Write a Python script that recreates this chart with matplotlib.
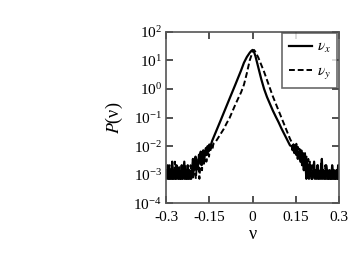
import numpy as np
import matplotlib
matplotlib.use("Agg")
import matplotlib.pyplot as plt
from matplotlib.ticker import LogLocator, NullLocator, FixedLocator

plt.rcParams["font.family"] = ["Liberation Serif", "DejaVu Serif"]
plt.rcParams["mathtext.fontset"] = "stix"

# P per single count in the histogram tails
count_scale = 7.1e-4

# v_x (solid): smooth core, log10 P
vx_core_x = [-0.14, -0.13, -0.12, -0.11, -0.10, -0.09, -0.08, -0.07, -0.06, -0.05,
             -0.04, -0.03, -0.02, -0.01, -0.005, 0.0, 0.005, 0.01, 0.015, 0.02, 0.03,
             0.04, 0.05, 0.06, 0.07, 0.08, 0.09, 0.10, 0.11, 0.12, 0.13]
vx_core_log = [-1.81, -1.57, -1.32, -1.08, -0.83, -0.59, -0.34, -0.1, 0.15, 0.4,
               0.65, 0.92, 1.12, 1.27, 1.33, 1.37, 1.3, 1.15, 0.95, 0.74, 0.35,
               0.0, -0.28, -0.52, -0.75, -0.96, -1.16, -1.38, -1.58, -1.78, -1.98]
# v_x tails: counts per bin
vx_left_counts = [2, 1, 3, 1, 1, 2, 1, 4, 1, 2, 1, 1, 3, 2, 1, 2, 1, 1, 3, 1, 2, 4, 1, 2, 1, 3,
                  1, 2, 1, 1, 2, 5, 2, 3, 6, 2, 4, 3, 7, 4, 9, 3, 6, 10, 5, 8, 12, 7, 14, 9, 16, 13]
vx_right_counts = [14, 10, 16, 8, 12, 7, 11, 5, 9, 6, 4, 8, 3, 6, 2, 5, 3, 1, 4, 2,
                   1, 3, 2, 1, 1, 2, 4, 1, 2, 1, 3, 1, 1, 2, 1, 5, 1, 2, 1, 1, 3, 2, 1, 1,
                   2, 1, 1, 3, 1, 2, 1, 1, 2, 1, 3, 1]

# v_y (dashed)
vy_core_x = [-0.13, -0.12, -0.11, -0.10, -0.09, -0.08, -0.07, -0.06, -0.05, -0.04,
             -0.03, -0.02, -0.01, 0.0, 0.005, 0.01, 0.02, 0.03, 0.04, 0.05,
             0.06, 0.07, 0.08, 0.09, 0.10, 0.11, 0.12, 0.13, 0.14]
vy_core_log = [-1.88, -1.72, -1.56, -1.4, -1.2, -1.02, -0.78, -0.55, -0.33, -0.12,
               0.15, 0.55, 1.0, 1.3, 1.37, 1.3, 1.1, 0.85, 0.6, 0.32,
               0.05, -0.25, -0.5, -0.75, -1.0, -1.25, -1.5, -1.75, -1.95]
vy_left_counts = [1, 2, 1, 1, 3, 1, 2, 1, 1, 2, 4, 1, 1, 2, 1, 3, 1, 1, 2, 1, 2, 1, 3, 1, 1, 2,
                  1, 2, 3, 1, 2, 1, 4, 2, 1, 3, 2, 5, 1, 3, 4, 2, 6, 3, 5, 8, 4, 7, 10, 6,
                  12, 9, 15, 11, 17]
vy_right_counts = [15, 12, 17, 10, 13, 9, 11, 7, 10, 6, 8, 5, 9, 4, 6, 3, 5, 2, 4, 3, 1, 3, 2,
                   1, 2, 1, 1, 3, 1, 2, 1, 4, 1, 1, 2, 1, 3, 1, 1, 2, 1, 2, 1, 1, 3, 1, 2,
                   1, 1, 2, 1, 1, 2]


def build(core_x, core_log, left_counts, right_counts, left_end, right_start):
    lx = np.linspace(-0.3, left_end, len(left_counts))
    rx = np.linspace(right_start, 0.3, len(right_counts))
    x = np.concatenate([lx, core_x, rx])
    y = np.concatenate([np.array(left_counts) * count_scale,
                        10.0 ** np.array(core_log),
                        np.array(right_counts) * count_scale])
    return x, y


vx_x, vx_y = build(vx_core_x, vx_core_log, vx_left_counts, vx_right_counts, -0.147, 0.136)
vy_x, vy_y = build(vy_core_x, vy_core_log, vy_left_counts, vy_right_counts, -0.136, 0.146)

fig = plt.figure(figsize=(3.55, 2.73), dpi=100)
ax = fig.add_axes([0.468, 0.256, 0.487, 0.627])

ax.plot(vx_x, vx_y, color="black", lw=1.6, label=r"$\nu_x$")
ax.plot(vy_x, vy_y, color="black", lw=1.4, ls=(0, (3, 1.5)), label=r"$\nu_y$")

ax.set_yscale("log")
ax.set_xlim(-0.3, 0.3)
ax.set_ylim(1e-4, 1e2)
ax.xaxis.set_major_locator(FixedLocator([-0.3, -0.15, 0, 0.15, 0.3]))
ax.set_xticklabels(["-0.3", "-0.15", "0", "0.15", "0.3"])
ax.yaxis.set_major_locator(LogLocator(base=10, numticks=10))
ax.yaxis.set_minor_locator(NullLocator())
ax.tick_params(direction="in", top=True, right=True, length=5, width=1.2,
               labelsize=11, pad=3, color="#333333")
ax.tick_params(axis="x", pad=6)
for s in ax.spines.values():
    s.set_linewidth(1.2)
    s.set_color("#555555")

ax.set_xlabel("ν", fontsize=13, labelpad=1)
ax.set_ylabel(r"$P$(ν)", fontsize=13, labelpad=6)

leg = ax.legend(loc="upper right", frameon=True, fancybox=False, edgecolor="#444444",
                fontsize=11, handlelength=1.5, handletextpad=0.3, labelspacing=0.6,
                borderaxespad=0.1, borderpad=0.45, markerfirst=True)
leg.get_frame().set_linewidth(1.2)

fig.savefig("out.png", dpi=100)
